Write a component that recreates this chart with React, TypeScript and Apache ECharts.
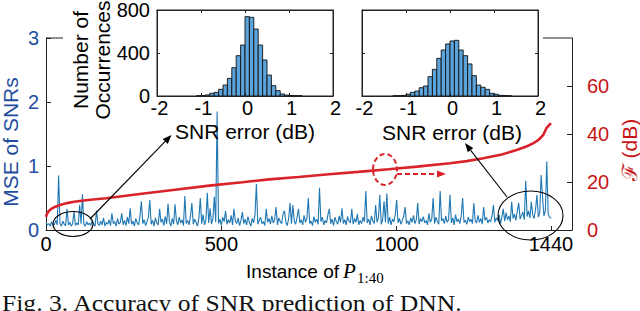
import React, { useEffect, useRef } from "react";
import * as echarts from "echarts";

// ---------- data ----------
// MSE of SNRs, one value every mseStep instances (0..1440)
const mseStep = 4;
const mseValues = [
  0.12, 0.08, 0.1, 0.06, 0.13, 0.07, 0.09, 0.15, 0.08, 0.85, 0.1, 0.06, 0.14, 0.09, 0.07, 0.33, 0.08, 0.12, 0.06, 0.1,
  0.29, 0.07, 0.11, 0.08, 0.39, 0.1, 0.56, 0.09, 0.06, 0.13, 0.08, 0.11, 0.07, 0.15, 0.09, 0.06, 0.3, 0.1, 0.07, 0.14,
  0.08, 0.19, 0.06, 0.12, 0.09, 0.16, 0.07, 0.26, 0.1, 0.13, 0.06, 0.18, 0.09, 0.12, 0.26, 0.08, 0.15, 0.07, 0.2, 0.1,
  0.34, 0.09, 0.14, 0.06, 0.18, 0.11, 0.08, 0.22, 0.45, 0.1, 0.16, 0.07, 0.13, 0.2, 0.47, 0.09, 0.15, 0.06, 0.19, 0.11,
  0.08, 0.33, 0.12, 0.17, 0.07, 0.21, 0.1, 0.41, 0.13, 0.06, 0.18, 0.09, 0.4, 0.14, 0.08, 0.2, 0.11, 0.16, 0.07, 0.53,
  0.1, 0.15, 0.08, 0.22, 0.42, 0.09, 0.17, 0.12, 0.06, 0.19, 0.5, 0.1, 0.24, 0.08, 0.15, 0.58, 0.11, 0.34, 0.09, 0.18,
  0.52, 0.12, 1.85, 0.1, 0.17, 0.07, 0.2, 0.13, 0.3, 0.09, 0.16, 0.11, 0.23, 0.08, 0.33, 0.14, 0.1, 0.19, 0.07, 0.15,
  0.28, 0.1, 0.17, 0.08, 0.21, 0.12, 0.06, 0.18, 0.11, 0.24, 0.72, 0.09, 0.15, 0.2, 0.1, 0.13, 0.07, 0.33, 0.12, 0.18,
  0.09, 0.22, 0.11, 0.16, 0.36, 0.08, 0.19, 0.13, 0.1, 0.25, 0.3, 0.12, 0.07, 0.18, 0.42, 0.1, 0.39, 0.14, 0.09, 0.2,
  0.33, 0.11, 0.16, 0.08, 0.23, 0.12, 0.18, 0.5, 0.1, 0.14, 0.07, 0.21, 0.12, 0.17, 0.09, 0.66, 0.13, 0.2, 0.08, 0.15,
  0.11, 0.24, 0.33, 0.1, 0.17, 0.07, 0.2, 0.13, 0.09, 0.22, 0.12, 0.34, 0.1, 0.16, 0.08, 0.21, 0.14, 0.11, 0.33, 0.09,
  0.18, 0.12, 0.25, 0.08, 0.15, 0.1, 0.2, 0.13, 0.61, 0.11, 0.17, 0.08, 0.22, 0.14, 0.1, 0.39, 0.12, 0.19, 0.55, 0.09,
  0.16, 0.45, 0.12, 0.57, 0.1, 0.2, 0.08, 0.17, 0.13, 0.24, 0.47, 0.11, 0.18, 0.09, 0.15, 0.21, 0.36, 0.1, 0.14, 0.08,
  0.19, 0.12, 0.23, 0.1, 0.16, 0.42, 0.09, 0.18, 0.13, 0.21, 0.11, 0.15, 0.08, 0.26, 0.12, 0.17, 0.5, 0.1, 0.2, 0.13,
  0.09, 0.61, 0.14, 0.18, 0.1, 0.22, 0.12, 0.16, 0.55, 0.11, 0.19, 0.08, 0.24, 0.13, 0.17, 0.1, 0.21, 0.5, 0.12, 0.15,
  0.09, 0.2, 0.13, 0.17, 0.1, 0.42, 0.14, 0.11, 0.23, 0.12, 0.18, 0.09, 0.36, 0.15, 0.2, 0.11, 0.16, 0.13, 0.22, 0.39,
  0.12, 0.19, 0.15, 0.24, 0.1, 0.2, 0.33, 0.14, 0.27, 0.16, 0.22, 0.13, 0.44, 0.18, 0.25, 0.15, 0.3, 0.42, 0.17, 0.23,
  0.28, 0.16, 0.77, 0.21, 0.3, 0.19, 0.44, 0.24, 0.18, 0.32, 0.55, 0.2, 0.27, 0.86, 0.52, 0.22, 0.3, 1.07, 0.25, 0.2,
  0.18,
];

// F (dB), sorted curve
const fX = [0, 3, 8, 15, 25, 40, 60, 80, 120, 172, 267, 362, 466, 560, 636, 720, 807, 890, 977, 1058, 1152, 1200, 1247, 1300, 1342, 1370, 1389, 1405, 1418, 1427, 1435, 1440];
const fDb = [5.5, 6.8, 7.9, 8.8, 9.6, 10.4, 11.2, 11.8, 12.5, 13.2, 15, 16.7, 18.5, 19.9, 21.1, 22.1, 23.2, 24.2, 25.3, 26.4, 27.8, 28.7, 29.9, 31.5, 33.3, 34.8, 36.1, 37.6, 39.6, 42.4, 43.7, 44.5];

// histograms (bin lower edges, width 0.1 dB)
const binWidth = 0.1;
const leftEdges = [-1.1, -1.0, -0.9, -0.8, -0.7, -0.6, -0.5, -0.4, -0.3, -0.2, -0.1, 0.0, 0.1, 0.2, 0.3, 0.4, 0.5, 0.6, 0.7, 0.8, 0.9, 1.0, 1.1, 1.2];
const leftCounts = [2, 4, 10, 25, 34, 62, 102, 164, 263, 375, 474, 738, 732, 623, 474, 335, 195, 96, 50, 19, 8, 5, 3, 2];
const rightEdges = [-1.3, -1.2, -1.1, -1.0, -0.9, -0.8, -0.7, -0.6, -0.5, -0.4, -0.3, -0.2, -0.1, 0.0, 0.1, 0.2, 0.3, 0.4, 0.5, 0.6, 0.7, 0.8, 0.9, 1.0, 1.1, 1.2, 1.3];
const rightCounts = [2, 3, 5, 16, 34, 46, 77, 93, 180, 248, 350, 428, 484, 512, 518, 428, 375, 298, 189, 102, 81, 62, 25, 16, 6, 4, 2];

const mainXTicks = [0, 500, 1000, 1440];
const rightYTicks = [0, 20, 40, 60];

// ---------- styles ----------
const SANS = '"Liberation Sans", Arial, Helvetica, sans-serif';
const SERIF = '"Liberation Serif", "Times New Roman", serif';
const BLUE_LINE = "#1f77b4";
const BLUE_TEXT = "#1f4e9f";
const RED = "#d9232a";
const RED_TEXT = "#c81414";
const HIST_FILL = "#5ba4db";
const plain = (v: number) => String(v);

function arrow(x1: number, y1: number, x2: number, y2: number, color: string, width: number, dash?: number[]) {
  const dx = x2 - x1, dy = y2 - y1;
  const L = Math.hypot(dx, dy);
  const ux = dx / L, uy = dy / L;
  const hl = 9, hw = 3.5;
  const bx = x2 - ux * hl, by = y2 - uy * hl;
  return [
    { type: "line", z: 50, shape: { x1, y1, x2: bx, y2: by }, style: { stroke: color, lineWidth: width, lineDash: dash } },
    { type: "polygon", z: 50, shape: { points: [[x2, y2], [bx - uy * hw, by + ux * hw], [bx + uy * hw, by - ux * hw]] }, style: { fill: color } },
  ];
}

function histSeries(edges: number[], counts: number[], xi: number, yi: number) {
  return {
    type: "custom",
    xAxisIndex: xi,
    yAxisIndex: yi,
    z: 20,
    clip: true,
    data: edges.map((e, i) => [e, e + binWidth, counts[i]]),
    encode: { x: [0, 1], y: 2 },
    renderItem: (params: any, api: any) => {
      const p0 = api.coord([api.value(0), 0]);
      const p1 = api.coord([api.value(1), api.value(2)]);
      return {
        type: "rect",
        shape: { x: p0[0], y: p1[1], width: p1[0] - p0[0], height: p0[1] - p1[1] },
        style: { fill: HIST_FILL, stroke: "#111", lineWidth: 0.9 },
      };
    },
  };
}

function insetX(gridIndex: number, bottom: boolean) {
  return {
    gridIndex,
    type: "value",
    min: -2,
    max: 2,
    interval: 1,
    position: bottom ? "bottom" : "top",
    axisLine: { show: true, onZero: false, lineStyle: { color: "#222", width: 1 } },
    axisTick: { show: true, inside: true, length: 3, lineStyle: { color: "#222" } },
    axisLabel: { show: bottom, fontFamily: SANS, fontSize: 20, color: "#000", margin: 2, padding: [0, 0, 0, 5], formatter: plain },
    splitLine: { show: false },
    z: 25,
  };
}

function insetY(gridIndex: number, left: boolean, labels: boolean) {
  return {
    gridIndex,
    type: "value",
    min: 0,
    max: 800,
    interval: 400,
    position: left ? "left" : "right",
    axisLine: { show: true, onZero: false, lineStyle: { color: "#222", width: 1 } },
    axisTick: { show: true, inside: true, length: 3, lineStyle: { color: "#222" } },
    axisLabel: { show: labels, fontFamily: SANS, fontSize: 20, color: "#000", margin: 7, formatter: plain },
    splitLine: { show: false },
    z: 25,
  };
}

export default function App() {
  const ref = useRef<HTMLDivElement>(null);
  useEffect(() => {
    if (!ref.current) return;
    const chart = echarts.init(ref.current, undefined, { renderer: "svg" });
    const mseData = mseValues.map((v, i) => [i * mseStep, v]);
    const fData = fX.map((x, i) => [x, fDb[i]]);

    const graphic: any[] = [
      // visible pieces of the main box top
      { type: "line", z: 40, shape: { x1: 46, y1: 38, x2: 63, y2: 38 }, style: { stroke: "#222", lineWidth: 1 } },
      { type: "line", z: 40, shape: { x1: 543, y1: 38, x2: 572, y2: 38 }, style: { stroke: "#222", lineWidth: 1 } },
      // ellipses
      { type: "ellipse", z: 50, shape: { cx: 73, cy: 224, rx: 20, ry: 12.5 }, style: { fill: "transparent", stroke: "#000", lineWidth: 1.1 } },
      { type: "ellipse", z: 50, shape: { cx: 530.5, cy: 215.5, rx: 32.5, ry: 24.5 }, style: { fill: "transparent", stroke: "#000", lineWidth: 1.1 } },
      { type: "ellipse", z: 50, shape: { cx: 385, cy: 169.5, rx: 12, ry: 15.5 }, style: { fill: "transparent", stroke: RED, lineWidth: 2, lineDash: [5, 3] } },
      ...arrow(90, 219, 171.5, 135, "#000", 1.1),
      ...arrow(507, 197, 465, 143, "#000", 1.1),
      ...arrow(397, 174, 446, 174, RED, 2, [5, 3]),
      // texts
      { type: "text", z: 60, x: 245, y: 131, style: { text: "SNR error (dB)", font: `21px ${SANS}`, fill: "#000", textAlign: "center", textVerticalAlign: "middle" } },
      { type: "text", z: 60, x: 452, y: 132, style: { text: "SNR error (dB)", font: `21px ${SANS}`, fill: "#000", textAlign: "center", textVerticalAlign: "middle" } },
      { type: "text", z: 60, x: 80, y: 60, rotation: Math.PI / 2, style: { text: "Number of", font: `21px ${SANS}`, fill: "#000", textAlign: "center", textVerticalAlign: "middle" } },
      { type: "text", z: 60, x: 102.5, y: 60, rotation: Math.PI / 2, style: { text: "Occurrences", font: `21px ${SANS}`, fill: "#000", textAlign: "center", textVerticalAlign: "middle" } },
      { type: "text", z: 60, x: 10, y: 142, rotation: Math.PI / 2, style: { text: "MSE of SNRs", font: `21px ${SANS}`, fill: BLUE_TEXT, textAlign: "center", textVerticalAlign: "middle" } },
      { type: "text", z: 60, x: 629, y: 150, rotation: Math.PI / 2, style: { text: "ℱ (dB)", font: `21px ${SANS}`, fill: RED_TEXT, textAlign: "center", textVerticalAlign: "middle" } },
      { type: "text", z: 60, x: 339, y: 271, style: { text: "Instance of", font: `19px ${SANS}`, fill: "#000", textAlign: "right", textVerticalAlign: "middle" } },
      { type: "text", z: 60, x: 343, y: 271, style: { text: "P", font: `italic 21px ${SERIF}`, fill: "#000", textAlign: "left", textVerticalAlign: "middle" } },
      { type: "text", z: 60, x: 357, y: 278, style: { text: "1:40", font: `15px ${SERIF}`, fill: "#000", textAlign: "left", textVerticalAlign: "middle" } },
      { type: "text", z: 60, x: 2, y: 303, scaleX: 1.09, style: { text: "Fig. 3. Accuracy of SNR prediction of DNN.", font: `23.5px ${SERIF}`, fill: "#111", textAlign: "left", textVerticalAlign: "middle" } },
    ];

    chart.setOption({
      animation: false,
      backgroundColor: "#fff",
      grid: [
        { left: 46, right: 68, top: 38, bottom: 81, containLabel: false, outerBoundsMode: "none" },
        { left: 157, top: 10, width: 176, height: 86, show: true, backgroundColor: "#fff", borderColor: "#222", borderWidth: 1, containLabel: false, outerBoundsMode: "none" },
        { left: 362, top: 10, width: 176, height: 86, show: true, backgroundColor: "#fff", borderColor: "#222", borderWidth: 1, containLabel: false, outerBoundsMode: "none" },
      ],
      xAxis: [
        {
          gridIndex: 0,
          type: "value",
          min: 0,
          max: 1500,
          position: "bottom",
          axisLine: { show: true, onZero: false, lineStyle: { color: "#222", width: 1 } },
          axisTick: { show: true, inside: true, length: 4, customValues: mainXTicks, lineStyle: { color: "#222" } },
          axisLabel: { customValues: mainXTicks, fontFamily: SANS, fontSize: 20, color: "#000", margin: 4, formatter: plain },
          splitLine: { show: false },
        },
        insetX(1, true),
        insetX(1, false),
        insetX(2, true),
        insetX(2, false),
      ],
      yAxis: [
        {
          gridIndex: 0,
          type: "value",
          min: 0,
          max: 3,
          interval: 1,
          position: "left",
          axisLine: { show: true, onZero: false, lineStyle: { color: "#222", width: 1 } },
          axisTick: { show: true, inside: true, length: 5, lineStyle: { color: "#222" } },
          axisLabel: { fontFamily: SANS, fontSize: 20, color: BLUE_TEXT, margin: 7, formatter: plain },
          splitLine: { show: false },
        },
        {
          gridIndex: 0,
          type: "value",
          min: 0,
          max: 80,
          position: "right",
          axisLine: { show: true, onZero: false, lineStyle: { color: "#222", width: 1 } },
          axisTick: { show: true, inside: true, length: 5, customValues: rightYTicks, lineStyle: { color: "#222" } },
          axisLabel: { customValues: rightYTicks, fontFamily: SANS, fontSize: 20, color: RED_TEXT, margin: 15, formatter: plain },
          splitLine: { show: false },
        },
        insetY(1, true, true),
        insetY(1, false, false),
        insetY(2, true, false),
        insetY(2, false, false),
      ],
      series: [
        {
          type: "line",
          xAxisIndex: 0,
          yAxisIndex: 0,
          data: mseData,
          symbol: "none",
          lineStyle: { color: BLUE_LINE, width: 1.1 },
          z: 2,
        },
        {
          type: "line",
          xAxisIndex: 0,
          yAxisIndex: 1,
          data: fData,
          symbol: "none",
          smooth: false,
          lineStyle: { color: RED, width: 2.6 },
          z: 3,
        },
        histSeries(leftEdges, leftCounts, 1, 2),
        histSeries(rightEdges, rightCounts, 3, 4),
      ],
      graphic,
    });
    return () => chart.dispose();
  }, []);
  return <div ref={ref} style={{ width: 640, height: 311, position: "absolute", left: 0, top: 0 }} />;
}
